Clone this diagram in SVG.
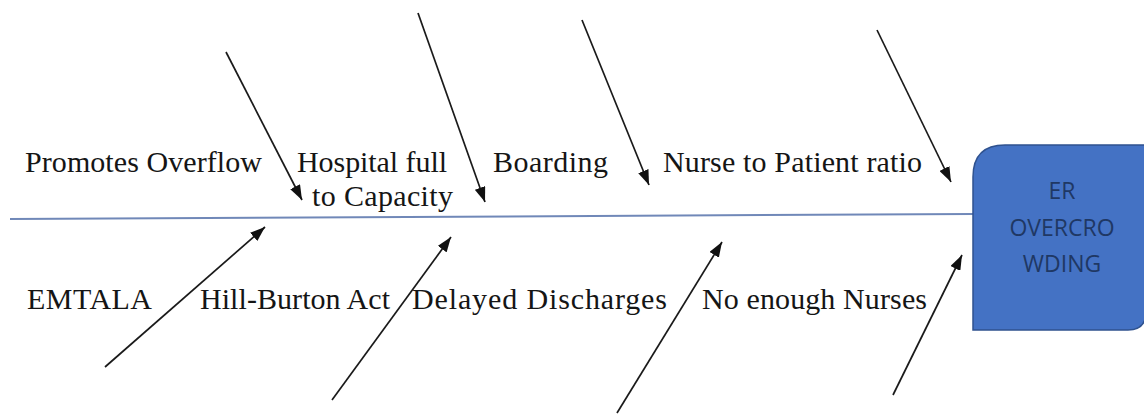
<svg xmlns="http://www.w3.org/2000/svg" width="1144" height="414" viewBox="0 0 1144 414">
<style>
.lbl{font-family:"Liberation Serif","Times New Roman",serif;font-size:30px;fill:#151515}
.box{fill:#4472C4;stroke:#2F528F;stroke-width:1.5}
.boxt{font-family:"Open Sans","Liberation Sans",sans-serif;font-size:23px;fill:#1F3864;text-anchor:middle}
.arr{stroke:#1a1a1a;stroke-width:1.7;fill:none;marker-end:url(#ah)}
.spine{stroke:#7088B8;stroke-width:2;fill:none}
</style>
<defs>
<marker id="ah" viewBox="0 0 10 10" refX="10" refY="5" markerWidth="15" markerHeight="11" markerUnits="userSpaceOnUse" orient="auto" preserveAspectRatio="none">
<path d="M0,0 L10,5 L0,10 Z" fill="#111"/>
</marker>
</defs>
<rect width="1144" height="414" fill="#ffffff"/>
<g id="connectors">
<line class="spine" x1="10" y1="219" x2="973" y2="214"/>
<line class="arr" x1="226" y1="52" x2="302" y2="200"/>
<line class="arr" x1="418" y1="13" x2="485" y2="202"/>
<line class="arr" x1="582" y1="20" x2="649" y2="185"/>
<line class="arr" x1="877" y1="30" x2="951" y2="182"/>
<line class="arr" x1="105" y1="367" x2="265" y2="227"/>
<line class="arr" x1="332" y1="400" x2="451" y2="237"/>
<line class="arr" x1="617" y1="413" x2="722" y2="242"/>
<line class="arr" x1="893" y1="395" x2="962" y2="255"/>
</g>
<g id="effect">
<path class="box" d="M973,177 Q973,145 1005,145 L1146,145 L1146,312 Q1146,330 1128,330 L973,330 Z"/>
<text class="boxt" x="1062" y="199">ER</text>
<text class="boxt" x="1062" y="236">OVERCRO</text>
<text class="boxt" x="1062" y="272">WDING</text>
</g>
<g id="cause-promotes-overflow"><text class="lbl" x="25" y="172" textLength="237">Promotes Overflow</text></g>
<g id="cause-hospital-full"><text class="lbl" x="297" y="172" textLength="150">Hospital full</text><text class="lbl" x="312" y="206" textLength="141">to Capacity</text></g>
<g id="cause-boarding"><text class="lbl" x="493" y="172" textLength="115">Boarding</text></g>
<g id="cause-nurse-ratio"><text class="lbl" x="663" y="172" textLength="259">Nurse to Patient ratio</text></g>
<g id="cause-emtala"><text class="lbl" x="27" y="309" textLength="125">EMTALA</text></g>
<g id="cause-hill-burton"><text class="lbl" x="200" y="309" textLength="190">Hill-Burton Act</text></g>
<g id="cause-delayed"><text class="lbl" x="412" y="309" textLength="255">Delayed Discharges</text></g>
<g id="cause-nurses"><text class="lbl" x="702" y="309" textLength="225">No enough Nurses</text></g>
</svg>
